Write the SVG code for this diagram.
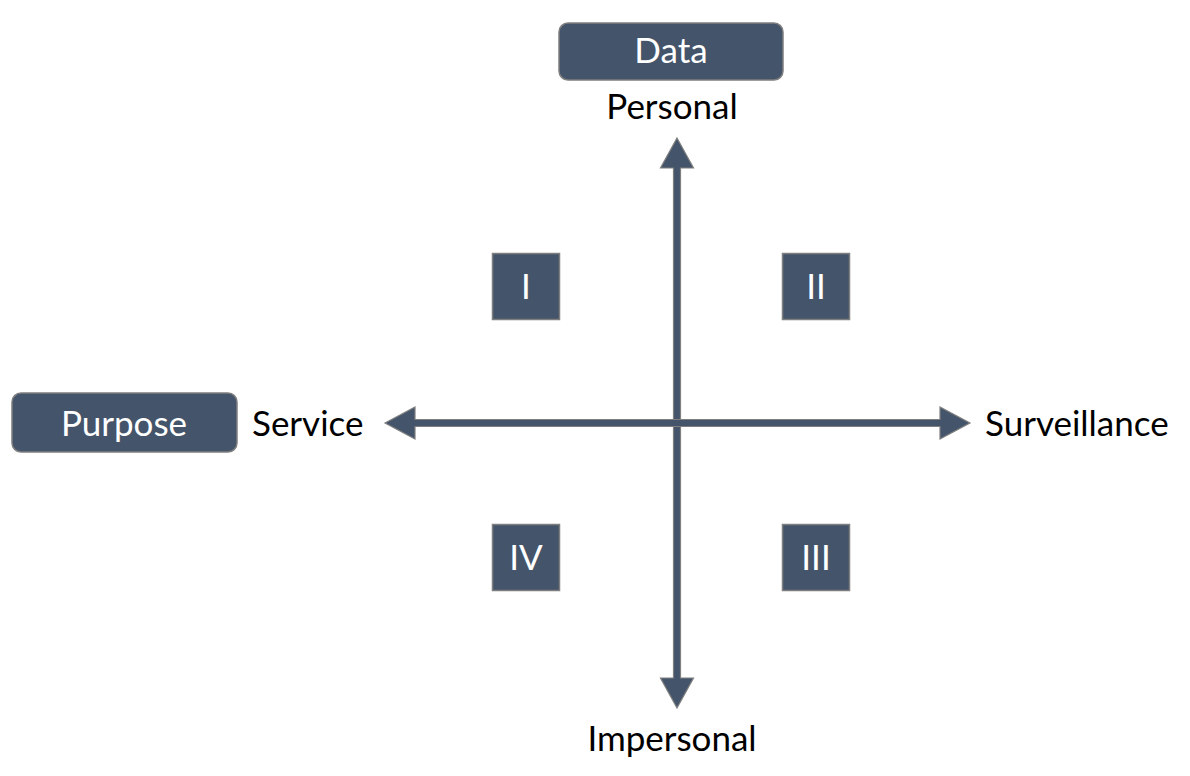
<svg xmlns="http://www.w3.org/2000/svg" width="1190" height="776" viewBox="0 0 1190 776">
<style>
.box{fill:#44546A;stroke:#7F7F7F;stroke-width:1.5}
.axis{fill:#44546A;stroke:#7F7F7F;stroke-width:1.2;stroke-linejoin:miter}
.wt{fill:#FFFFFF;font-family:Lato,"Open Sans",sans-serif;font-size:35px;text-anchor:middle}
.bt{fill:#000000;font-family:Lato,"Open Sans",sans-serif;font-size:35px}
</style>
<rect width="1190" height="776" fill="#FFFFFF"/>
<g id="connectors">
<polygon class="axis" points="677,138 693.5,168 680.5,168 680.5,678 693.5,678 677,708 660.5,678 673.5,678 673.5,168 660.5,168"/>
<polygon class="axis" points="385,423 415,407 415,419.5 940,419.5 940,407 970,423 940,439 940,426.5 415,426.5 415,439"/>
</g>
<g id="data">
<rect class="box" x="559" y="23" width="224" height="57" rx="9"/>
<text class="wt" x="671" y="63">Data</text>
</g>
<g id="purpose">
<rect class="box" x="12" y="393" width="225" height="59" rx="9"/>
<text class="wt" x="124" y="436">Purpose</text>
</g>
<g id="q1">
<rect class="box" x="492.5" y="253.5" width="67" height="66"/>
<text class="wt" x="526" y="299">I</text>
</g>
<g id="q2">
<rect class="box" x="782.5" y="253.5" width="67" height="66"/>
<text class="wt" x="816" y="299">II</text>
</g>
<g id="q3">
<rect class="box" x="782.5" y="524.5" width="67" height="66"/>
<text class="wt" x="816" y="570">III</text>
</g>
<g id="q4">
<rect class="box" x="492.5" y="524.5" width="67" height="66"/>
<text class="wt" x="526" y="570">IV</text>
</g>
<g id="labels">
<text class="bt" x="672" y="119" text-anchor="middle">Personal</text>
<text class="bt" x="672" y="751" text-anchor="middle">Impersonal</text>
<text class="bt" x="252" y="436">Service</text>
<text class="bt" x="985" y="436">Surveillance</text>
</g>
</svg>
